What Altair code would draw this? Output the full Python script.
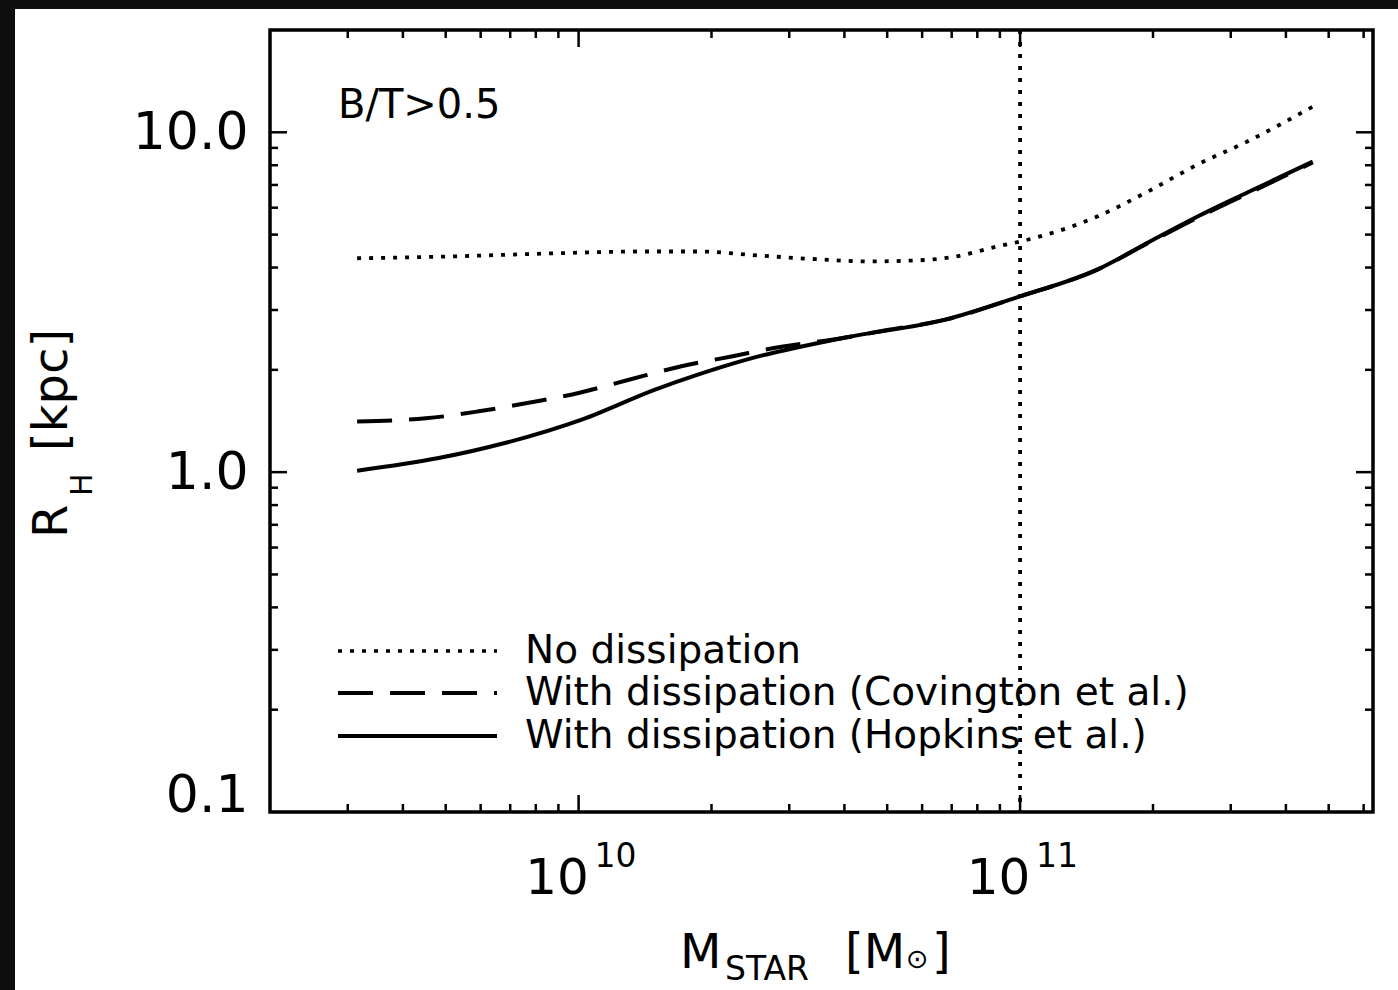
import altair as alt
import pandas as pd

# ---------------- data ----------------
mass_no_diss = [3.15e9, 5.08e9, 8.55e9, 1.44e10, 1.87e10, 2.55e10, 3.49e10, 4.53e10,
                5.88e10, 7.13e10, 8.91e10, 1.0e11, 1.5e11, 1.95e11, 2.53e11, 3.28e11, 4.6e11]
r_no_diss = [4.26, 4.31, 4.40, 4.46, 4.46, 4.34, 4.23, 4.17,
             4.20, 4.31, 4.62, 4.77, 5.66, 6.70, 8.05, 9.41, 11.9]

mass_covington = [3.15e9, 4.51e9, 5.94e9, 7.70e9, 1.0e10, 1.30e10, 1.71e10, 2.22e10, 2.88e10,
                  3.81e10, 5.0e10, 6.77e10, 1.0e11, 1.5e11, 1.95e11, 2.53e11, 3.28e11, 4.6e11]
r_covington = [1.41, 1.44, 1.51, 1.60, 1.71, 1.87, 2.05, 2.19, 2.34,
               2.46, 2.62, 2.81, 3.29, 3.95, 4.72, 5.62, 6.60, 8.15]

mass_hopkins = [3.15e9, 4.82e9, 6.84e9, 1.02e10, 1.49e10, 1.87e10, 2.39e10, 4.02e10,
                6.77e10, 1.0e11, 1.5e11, 1.95e11, 2.53e11, 3.28e11, 4.6e11]
r_hopkins = [1.01, 1.10, 1.22, 1.43, 1.75, 1.94, 2.14, 2.49,
             2.81, 3.29, 3.95, 4.74, 5.66, 6.66, 8.2]

reference_mass = [1e11]

x_major = [1e10, 1e11]
x_exponents = ["10", "11"]
x_minor = [3e9, 4e9, 5e9, 6e9, 7e9, 8e9, 9e9,
           2e10, 3e10, 4e10, 5e10, 6e10, 7e10, 8e10, 9e10,
           2e11, 3e11, 4e11, 5e11, 6e11]
y_label_values = [0.1, 1, 10]
y_major = [1, 10]
y_minor = [0.2, 0.3, 0.4, 0.5, 0.6, 0.7, 0.8, 0.9, 2, 3, 4, 5, 6, 7, 8, 9]

legend_labels = ["No dissipation",
                 "With dissipation (Covington et al.)",
                 "With dissipation (Hopkins et al.)"]
panel_label = "B/T>0.5"

# ---------------- layout ----------------
W, H = 1103, 782
PAD_L, PAD_T, PAD_R, PAD_B = 270, 30, 25, 178
FONT = "DejaVu Sans"
MAJ, MIN = 17, 8
DOT = [4, 8]
DASH = [35, 17]

xscale = alt.Scale(type="log", domain=[2e9, 6.3e11], nice=False)
yscale = alt.Scale(type="log", domain=[0.1, 20], nice=False)

xaxis = alt.Axis(values=x_major, labelExpr="'10'", title=None, grid=False, domain=False,
                 ticks=False, tickSize=0, labelFont=FONT, labelFontSize=50,
                 labelColor="black", labelPadding=41, labelOffset=-22)
yaxis = alt.Axis(values=y_label_values, format=".1f", title=None, grid=False, domain=False,
                 ticks=False, tickSize=0, labelFont=FONT, labelFontSize=52,
                 labelColor="black", labelPadding=22, labelFlush=True, labelFlushOffset=10)

dummy = alt.Data(values=[{"a": 1}])


def line_layer(m, r, dash, width):
    df = pd.DataFrame({"m": m, "r": r})
    props = dict(color="black", strokeWidth=width, interpolate="monotone", strokeCap="butt")
    if dash:
        props["strokeDash"] = dash
    return alt.Chart(df).mark_line(**props).encode(
        x=alt.X("m:Q", scale=xscale, axis=xaxis),
        y=alt.Y("r:Q", scale=yscale, axis=yaxis),
    )


layers = []

# dark strips of the scanned page edge
layers.append(alt.Chart(dummy).mark_rect(color="#0e0e0e").encode(
    x=alt.value(-PAD_L), x2=alt.value(W + PAD_R), y=alt.value(-PAD_T), y2=alt.value(-PAD_T + 9)))
layers.append(alt.Chart(dummy).mark_rect(color="#0e0e0e").encode(
    x=alt.value(-PAD_L), x2=alt.value(-PAD_L + 15), y=alt.value(-PAD_T), y2=alt.value(H + PAD_B)))

# curves
layers.append(line_layer(mass_no_diss, r_no_diss, DOT, 3.8))
layers.append(line_layer(mass_covington, r_covington, DASH, 4))
layers.append(line_layer(mass_hopkins, r_hopkins, None, 4))

# vertical reference line
layers.append(alt.Chart(pd.DataFrame({"m": reference_mass})).mark_rule(
    color="black", strokeWidth=3.8, strokeDash=DOT).encode(
    x=alt.X("m:Q", scale=xscale, axis=xaxis), y=alt.value(0), y2=alt.value(H)))


# inward ticks (IDL style) on all four sides
def xticks(vals, length):
    df = pd.DataFrame({"m": vals})
    base = alt.Chart(df).mark_rule(color="black", strokeWidth=2.5)
    enc = dict(x=alt.X("m:Q", scale=xscale, axis=xaxis))
    return [base.encode(y=alt.value(H), y2=alt.value(H - length), **enc),
            base.encode(y=alt.value(0), y2=alt.value(length), **enc)]


def yticks(vals, length):
    df = pd.DataFrame({"r": vals})
    base = alt.Chart(df).mark_rule(color="black", strokeWidth=2.5)
    enc = dict(y=alt.Y("r:Q", scale=yscale, axis=yaxis))
    return [base.encode(x=alt.value(0), x2=alt.value(length), **enc),
            base.encode(x=alt.value(W), x2=alt.value(W - length), **enc)]


layers += xticks(x_major, MAJ) + xticks(x_minor, MIN)
layers += yticks(y_major, MAJ) + yticks(y_minor, MIN)

# exponents of the x tick labels
layers.append(alt.Chart(pd.DataFrame({"m": x_major, "e": x_exponents})).mark_text(
    font=FONT, fontSize=33, align="left", baseline="alphabetic", dx=16, color="black").encode(
    x=alt.X("m:Q", scale=xscale, axis=xaxis), y=alt.value(H + 55), text="e:N"))

# legend
legend_rows = [(legend_labels[0], DOT, 3.5, 621),
               (legend_labels[1], DASH, 4, 663),
               (legend_labels[2], None, 4, 706)]
for label, dash, width, yy in legend_rows:
    props = dict(color="black", strokeWidth=width, strokeCap="butt")
    if dash:
        props["strokeDash"] = dash
    layers.append(alt.Chart(dummy).mark_rule(**props).encode(
        x=alt.value(68), x2=alt.value(227), y=alt.value(yy)))
    layers.append(alt.Chart(dummy).mark_text(
        text=label, font=FONT, fontSize=39, align="left", baseline="middle", color="black").encode(
        x=alt.value(255), y=alt.value(yy)))

# panel label
layers.append(alt.Chart(dummy).mark_text(
    text=panel_label, font=FONT, fontSize=40, align="left", baseline="alphabetic", color="black").encode(
    x=alt.value(68), y=alt.value(88)))


def txt(s, x, y, size, angle=0):
    props = dict(text=s, font=FONT, fontSize=size, align="left", baseline="alphabetic", color="black")
    if angle:
        props["angle"] = angle
    return alt.Chart(dummy).mark_text(**props).encode(x=alt.value(x), y=alt.value(y))


# y-axis title  R_H [kpc]
layers.append(txt("R", -203, 508, 48, 270))
layers.append(txt("H", -178, 466, 30, 270))
layers.append(txt("[kpc]", -203, 421, 48, 270))

# x-axis title  M_STAR [M_sun]
layers.append(txt("M", 410, 938, 48))
layers.append(txt("STAR", 455, 950, 33))
layers.append(txt("[M", 575, 938, 48))
layers.append(txt("⊙", 636, 938, 27))
layers.append(txt("]", 662, 938, 48))

chart = alt.layer(*layers).properties(
    width=W, height=H,
    autosize=alt.AutoSizeParams(type="none"),
    padding={"left": PAD_L, "top": PAD_T, "right": PAD_R, "bottom": PAD_B},
    background="white",
).configure_view(stroke="black", strokeWidth=3.5, fill="white")

chart.save("out.html", embed_options={"renderer": "svg", "actions": False})
